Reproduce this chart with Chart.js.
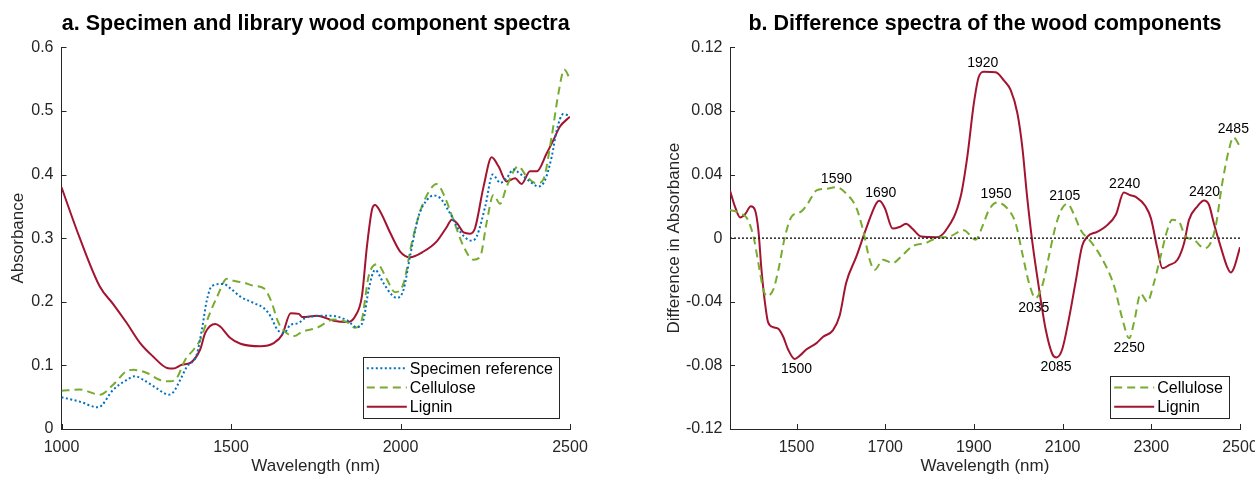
<!DOCTYPE html>
<html lang="en">
<head>
  <meta charset="UTF-8">
  <title>Wood component spectra</title>
  <script src="https://cdn.jsdelivr.net/npm/chart.js"></script>
  <style>
    html, body {
      margin: 0;
      padding: 0;
      background: #fff;
      overflow: hidden;
      width: 1255px;
      height: 477px;
    }
    .panel {
      position: absolute;
      top: 0;
      height: 477px;
    }
    #panelA { left: 0; width: 600px; }
    #panelB { left: 640px; width: 630px; }
  </style>
</head>
<body>
  <div class="panel" id="panelA"><canvas id="chartA"></canvas></div>
  <div class="panel" id="panelB"><canvas id="chartB"></canvas></div>

  <script>
    // ---- panel a: absorbance spectra ----
    const specimenWl = [1000, 1054, 1108, 1153, 1192, 1217, 1242, 1281, 1316, 1330, 1350, 1370, 1399, 1414, 1429, 1444, 1478, 1498, 1528, 1567, 1597, 1617, 1637, 1656, 1676, 1696, 1725, 1794, 1842, 1871, 1891, 1906, 1925, 1950, 1974, 1989, 2009, 2028, 2053, 2078, 2097, 2117, 2146, 2176, 2210, 2225, 2250, 2272, 2294, 2313, 2333, 2353, 2382, 2407, 2427, 2446, 2461, 2480, 2500];
    const specimenAbs = [0.050, 0.043, 0.034, 0.062, 0.077, 0.083, 0.077, 0.064, 0.054, 0.058, 0.077, 0.098, 0.117, 0.156, 0.203, 0.225, 0.228, 0.221, 0.208, 0.198, 0.190, 0.177, 0.156, 0.151, 0.164, 0.166, 0.176, 0.178, 0.171, 0.160, 0.172, 0.219, 0.250, 0.229, 0.211, 0.206, 0.219, 0.271, 0.334, 0.360, 0.367, 0.363, 0.339, 0.310, 0.296, 0.303, 0.350, 0.400, 0.387, 0.394, 0.408, 0.401, 0.389, 0.381, 0.392, 0.428, 0.470, 0.495, 0.492];

    const celluloseWl = [1000, 1054, 1113, 1153, 1192, 1212, 1252, 1291, 1321, 1340, 1365, 1390, 1409, 1434, 1459, 1488, 1508, 1538, 1567, 1597, 1617, 1641, 1666, 1686, 1710, 1753, 1803, 1842, 1866, 1886, 1906, 1932, 1960, 1984, 2009, 2033, 2058, 2087, 2107, 2132, 2156, 2186, 2215, 2235, 2254, 2274, 2294, 2313, 2348, 2372, 2402, 2421, 2446, 2466, 2483, 2500];
    const celluloseAbs = [0.060, 0.062, 0.054, 0.070, 0.091, 0.093, 0.088, 0.077, 0.075, 0.080, 0.109, 0.125, 0.140, 0.177, 0.208, 0.236, 0.233, 0.230, 0.225, 0.221, 0.203, 0.166, 0.150, 0.146, 0.153, 0.159, 0.172, 0.168, 0.159, 0.172, 0.240, 0.259, 0.235, 0.215, 0.229, 0.292, 0.342, 0.376, 0.385, 0.363, 0.329, 0.287, 0.266, 0.271, 0.324, 0.368, 0.354, 0.381, 0.413, 0.397, 0.386, 0.392, 0.460, 0.528, 0.565, 0.550];

    const ligninWl = [1000, 1054, 1113, 1153, 1192, 1232, 1270, 1311, 1330, 1355, 1380, 1409, 1424, 1454, 1468, 1498, 1528, 1587, 1626, 1651, 1676, 1700, 1710, 1754, 1803, 1842, 1866, 1886, 1901, 1916, 1925, 1940, 1970, 1999, 2028, 2068, 2107, 2137, 2151, 2166, 2186, 2205, 2220, 2245, 2269, 2289, 2313, 2338, 2357, 2382, 2402, 2431, 2451, 2470, 2500];
    const ligninAbs = [0.380, 0.300, 0.224, 0.196, 0.167, 0.135, 0.114, 0.096, 0.095, 0.101, 0.104, 0.125, 0.151, 0.165, 0.161, 0.143, 0.134, 0.130, 0.135, 0.148, 0.182, 0.181, 0.176, 0.178, 0.170, 0.168, 0.177, 0.208, 0.287, 0.345, 0.352, 0.342, 0.308, 0.279, 0.270, 0.279, 0.295, 0.318, 0.329, 0.324, 0.309, 0.307, 0.316, 0.381, 0.427, 0.413, 0.389, 0.394, 0.385, 0.405, 0.405, 0.433, 0.454, 0.475, 0.491];

    const aXTicks = [1000, 1500, 2000, 2500];
    const aYTicks = [0, 0.1, 0.2, 0.3, 0.4, 0.5, 0.6];

    // ---- panel b: difference spectra ----
    const ligDiffWl = [1350, 1361, 1373, 1384, 1397, 1406, 1414, 1421, 1429, 1436, 1448, 1459, 1470, 1481, 1496, 1507, 1522, 1545, 1560, 1582, 1597, 1612, 1635, 1657, 1680, 1687, 1699, 1717, 1732, 1747, 1762, 1781, 1815, 1837, 1870, 1885, 1900, 1911, 1923, 1949, 1968, 1983, 1998, 2009, 2020, 2032, 2047, 2062, 2077, 2086, 2099, 2114, 2129, 2144, 2156, 2178, 2197, 2220, 2238, 2253, 2265, 2287, 2299, 2314, 2325, 2340, 2359, 2374, 2385, 2404, 2419, 2430, 2441, 2456, 2471, 2479, 2486, 2500];
    const ligDiff = [0.030, 0.020, 0.013, 0.015, 0.020, 0.018, 0.005, -0.020, -0.041, -0.053, -0.056, -0.057, -0.062, -0.070, -0.076, -0.074, -0.070, -0.066, -0.062, -0.058, -0.049, -0.028, -0.0115, 0.006, 0.022, 0.0235, 0.019, 0.006, 0.007, 0.009, 0.0057, 0.001, 0.0006, 0.005, 0.026, 0.051, 0.085, 0.1015, 0.1047, 0.1043, 0.099, 0.093, 0.0785, 0.0576, 0.026, -0.003, -0.032, -0.0576, -0.073, -0.075, -0.070, -0.051, -0.028, -0.005, 0.001, 0.004, 0.0073, 0.0147, 0.0287, 0.027, 0.026, 0.020, 0.0126, -0.007, -0.019, -0.017, -0.0136, -0.003, 0.0115, 0.020, 0.0237, 0.021, 0.0094, -0.005, -0.018, -0.0216, -0.019, -0.0057];

    const celDiffWl = [1350, 1373, 1388, 1403, 1414, 1425, 1433, 1448, 1459, 1474, 1489, 1511, 1526, 1545, 1567, 1590, 1612, 1635, 1650, 1665, 1676, 1695, 1717, 1736, 1762, 1792, 1815, 1845, 1877, 1904, 1919, 1934, 1953, 1975, 1994, 2009, 2024, 2039, 2054, 2069, 2084, 2099, 2111, 2126, 2141, 2163, 2186, 2216, 2235, 2250, 2261, 2276, 2291, 2306, 2321, 2336, 2347, 2362, 2377, 2396, 2419, 2430, 2445, 2460, 2475, 2485, 2500];
    const celDiff = [0.0178, 0.0157, 0.0126, 0.001, -0.0157, -0.032, -0.0366, -0.032, -0.020, 0.001, 0.0136, 0.0168, 0.022, 0.030, 0.031, 0.032, 0.028, 0.019, 0.005, -0.0136, -0.020, -0.0136, -0.0157, -0.0115, -0.005, -0.003, 0, 0.001, 0.005, -0.001, 0.0073, 0.0178, 0.0224, 0.0188, 0.0094, -0.0094, -0.028, -0.0377, -0.030, -0.0115, 0.0073, 0.0188, 0.0216, 0.0147, 0.005, -0.002, -0.0115, -0.030, -0.051, -0.063, -0.053, -0.035, -0.040, -0.028, -0.0115, 0.005, 0.0115, 0.0105, 0.001, -0.001, -0.0063, -0.0048, 0.0073, 0.0346, 0.0555, 0.0634, 0.0576];

    const bXTicks = [1500, 1700, 1900, 2100, 2300, 2500];
    const bYTicks = [-0.12, -0.08, -0.04, 0, 0.04, 0.08, 0.12];

    // peak labels on panel b
    const peakLabels = ['1500', '1590', '1690', '1920', '1950', '2035', '2085', '2105', '2240', '2250', '2420', '2485'];
    const peakWl = [1500, 1590, 1690, 1920, 1950, 2035, 2085, 2105, 2240, 2250, 2420, 2485];
    const peakVal = [-0.076, 0.032, 0.0235, 0.105, 0.0224, -0.0377, -0.075, 0.0216, 0.0287, -0.063, 0.0237, 0.0634];
    const peakSide = ['below', 'above', 'above', 'above', 'above', 'below', 'below', 'above', 'above', 'below', 'above', 'above'];

    const FONT = "'Liberation Sans', Arial, Helvetica, sans-serif";
    const INK = '#262626';
    const BLUE = '#0072BD';
    const GREEN = '#77AC30';
    const RED = '#A2142F';

    const pts = (xs, ys) => xs.map((x, i) => ({ x: x, y: ys[i] }));

    // inward tick marks, MATLAB style
    const inwardTicks = {
      id: 'inwardTicks',
      afterDraw(chart) {
        const { ctx, chartArea, scales } = chart;
        ctx.save();
        ctx.strokeStyle = INK;
        ctx.lineWidth = 1;
        ctx.beginPath();
        scales.x.ticks.forEach(t => {
          const px = Math.round(scales.x.getPixelForValue(t.value)) + 0.5;
          ctx.moveTo(px, chartArea.bottom);
          ctx.lineTo(px, chartArea.bottom - 5);
        });
        scales.y.ticks.forEach(t => {
          const py = Math.round(scales.y.getPixelForValue(t.value)) + 0.5;
          ctx.moveTo(chartArea.left, py);
          ctx.lineTo(chartArea.left + 5, py);
        });
        ctx.stroke();
        ctx.restore();
      }
    };

    // bold title centred over the plot area (not the whole canvas)
    function plotTitle(text) {
      return {
        id: 'plotTitle',
        afterDraw(chart) {
          const { ctx, chartArea } = chart;
          ctx.save();
          ctx.font = 'bold 21.5px ' + FONT;
          ctx.fillStyle = '#000';
          ctx.textAlign = 'center';
          ctx.textBaseline = 'alphabetic';
          ctx.fillText(text, (chartArea.left + chartArea.right) / 2, 29.5);
          ctx.restore();
        }
      };
    }

    // boxed legend in the lower right corner of the plot
    function boxLegend(items) {
      return {
        id: 'boxLegend',
        afterDraw(chart) {
          const { ctx, chartArea } = chart;
          ctx.save();
          ctx.font = '16px ' + FONT;
          const textW = Math.max(...items.map(it => ctx.measureText(it.label).width));
          const rowH = 19.3;
          const w = 47 + textW + 6;
          const h = items.length * rowH + 3.5;
          const x0 = chartArea.right - 11 - w;
          const y0 = chartArea.bottom - 11 - h;
          ctx.fillStyle = '#fff';
          ctx.fillRect(x0, y0, w, h);
          ctx.strokeStyle = INK;
          ctx.lineWidth = 1;
          ctx.strokeRect(Math.round(x0) + 0.5, Math.round(y0) + 0.5, Math.round(w), Math.round(h));
          items.forEach((it, i) => {
            const yc = y0 + 2 + rowH * (i + 0.5);
            ctx.strokeStyle = it.color;
            ctx.lineWidth = 2;
            ctx.setLineDash(it.dash || []);
            ctx.beginPath();
            ctx.moveTo(x0 + 4, yc);
            ctx.lineTo(x0 + 44, yc);
            ctx.stroke();
            ctx.setLineDash([]);
            ctx.fillStyle = '#000';
            ctx.textBaseline = 'middle';
            ctx.textAlign = 'left';
            ctx.fillText(it.label, x0 + 47, yc + 1);
          });
          ctx.restore();
        }
      };
    }

    const peakText = {
      id: 'peakText',
      afterDatasetsDraw(chart) {
        const { ctx, scales } = chart;
        ctx.save();
        ctx.font = '14px ' + FONT;
        ctx.fillStyle = '#000';
        ctx.textAlign = 'center';
        ctx.textBaseline = 'middle';
        peakLabels.forEach((txt, i) => {
          const px = scales.x.getPixelForValue(peakWl[i]);
          const py = scales.y.getPixelForValue(peakVal[i]);
          ctx.fillText(txt, px, peakSide[i] === 'above' ? py - 8 : py + 10);
        });
        ctx.restore();
      }
    };

    function axisOpts(min, max, tickVals, fmt, title, opts) {
      return {
        type: 'linear',
        min: min,
        max: max,
        afterBuildTicks: s => { s.ticks = tickVals.map(v => ({ value: v })); },
        grid: { drawOnChartArea: false, drawTicks: false },
        border: { display: true, color: INK, width: 1 },
        ticks: {
          color: INK,
          font: { family: FONT, size: 16 },
          padding: opts.tickPad,
          autoSkip: false,
          maxRotation: 0,
          callback: fmt
        },
        title: {
          display: true,
          text: title,
          color: INK,
          font: { family: FONT, size: 17 },
          padding: opts.titlePad
        },
        afterFit: opts.fit
      };
    }

    function baseOptions(xScale, yScale, padRight) {
      return {
        responsive: true,
        maintainAspectRatio: false,
        animation: false,
        layout: { padding: { left: 0, right: padRight, top: 47.3, bottom: 0 } },
        plugins: {
          legend: { display: false },
          tooltip: { enabled: false },
          title: { display: false }
        },
        elements: { point: { radius: 0 } },
        scales: { x: xScale, y: yScale }
      };
    }

    const fmtA = v => (v === 0 ? '0' : v.toFixed(1));
    const fmtB = v => (Math.abs(v) < 1e-9 ? '0' : v.toFixed(2));
    const fmtX = v => String(v);

    new Chart(document.getElementById('chartA'), {
      type: 'line',
      data: {
        datasets: [
          { label: 'Specimen reference', data: pts(specimenWl, specimenAbs), borderColor: BLUE, borderWidth: 2, borderDash: [2, 2.5], cubicInterpolationMode: 'monotone' },
          { label: 'Cellulose', data: pts(celluloseWl, celluloseAbs), borderColor: GREEN, borderWidth: 2, borderDash: [8, 5], cubicInterpolationMode: 'monotone' },
          { label: 'Lignin', data: pts(ligninWl, ligninAbs), borderColor: RED, borderWidth: 2, cubicInterpolationMode: 'monotone' }
        ]
      },
      options: baseOptions(
        axisOpts(1000, 2500, aXTicks, fmtX, 'Wavelength (nm)', { tickPad: 9, titlePad: { top: 0, bottom: 0.5 }, fit: s => { s.height = 48; } }),
        axisOpts(0, 0.6, aYTicks, fmtA, 'Absorbance', { tickPad: 8, titlePad: { top: 8, bottom: 0 }, fit: s => { s.width = 61.5; } }),
        30),
      plugins: [inwardTicks, plotTitle('a. Specimen and library wood component spectra'), boxLegend([
        { label: 'Specimen reference', color: BLUE, dash: [2, 2.5] },
        { label: 'Cellulose', color: GREEN, dash: [8, 5] },
        { label: 'Lignin', color: RED }
      ])]
    });

    new Chart(document.getElementById('chartB'), {
      type: 'line',
      data: {
        datasets: [
          { label: 'zero', data: pts([1350, 2500], [0, 0]), borderColor: INK, borderWidth: 1.5, borderDash: [2, 2] },
          { label: 'Cellulose', data: pts(celDiffWl, celDiff), borderColor: GREEN, borderWidth: 2, borderDash: [8, 5], cubicInterpolationMode: 'monotone' },
          { label: 'Lignin', data: pts(ligDiffWl, ligDiff), borderColor: RED, borderWidth: 2, cubicInterpolationMode: 'monotone' }
        ]
      },
      options: baseOptions(
        axisOpts(1350, 2500, bXTicks, fmtX, 'Wavelength (nm)', { tickPad: 9, titlePad: { top: 0, bottom: 0.5 }, fit: s => { s.height = 48; } }),
        axisOpts(-0.12, 0.12, bYTicks, fmtB, 'Difference in Absorbance', { tickPad: 7.5, titlePad: { top: 24, bottom: 0 }, fit: s => { s.width = 90; } }),
        30),
      plugins: [inwardTicks, peakText, plotTitle('b. Difference spectra of the wood components'), boxLegend([
        { label: 'Cellulose', color: GREEN, dash: [8, 5] },
        { label: 'Lignin', color: RED }
      ])]
    });
  </script>
</body>
</html>
